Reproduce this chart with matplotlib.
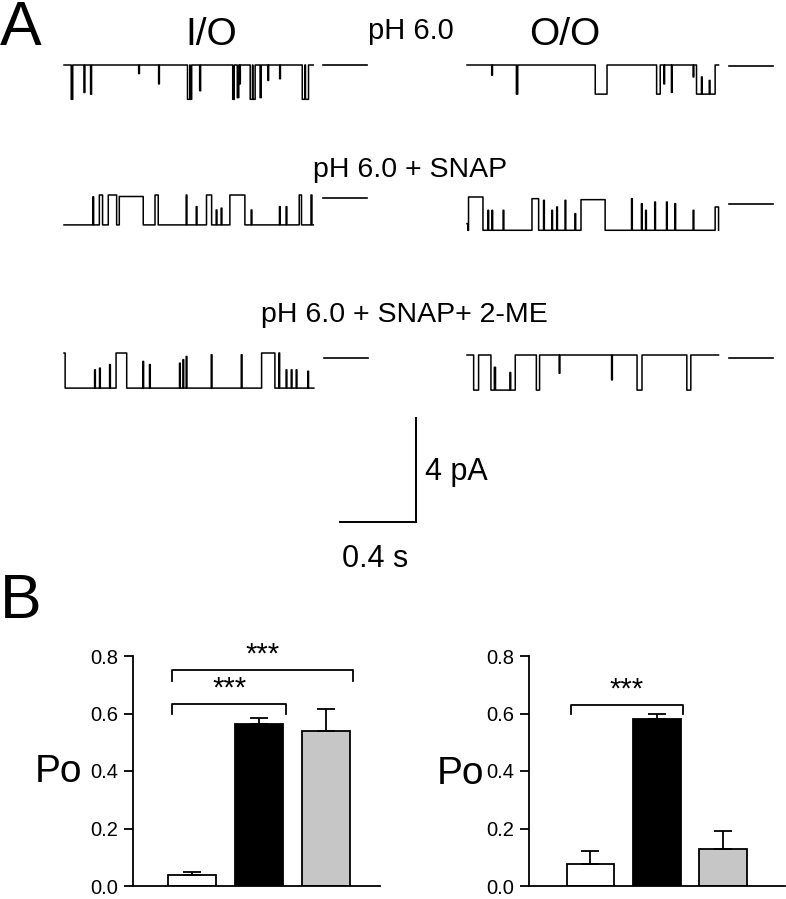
import numpy as np
import matplotlib
matplotlib.use("Agg")
import matplotlib.pyplot as plt

plt.rcParams['font.family'] = ['Liberation Sans', 'DejaVu Sans']

W, H = 786, 899

# ---- Panel A: single-channel records
# each event: (start ms, end ms, open fraction); 0 = closed level, 1 = fully open
io_ph6 = [(38, 46, 1.0), (105, 110, 0.8), (140, 145, 0.85), (393, 397, 0.25),
          (498, 502, 0.55), (650, 662, 1.0), (664, 672, 1.0), (714, 719, 0.75),
          (888, 896, 1.0), (912, 920, 0.95), (924, 928, 0.55), (980, 992, 1.0),
          (994, 1006, 1.0), (1032, 1038, 0.95), (1073, 1077, 0.45),
          (1135, 1139, 0.4), (1254, 1268, 1.0), (1271, 1287, 1.0)]
oo_ph6 = [(130, 134, 0.35), (260, 267, 1.0), (675, 737, 1.0), (998, 1017, 1.0),
          (1036, 1040, 0.65), (1076, 1080, 0.94), (1190, 1194, 0.41),
          (1208, 1306, 1.0), (1234, 1238, 0.41), (1275, 1279, 0.53)]
io_snap = [(152, 156, 0.06), (186, 203, 0.0), (233, 277, 0.0), (291, 417, 0.05),
           (479, 496, 0.0), (643, 647, 0.0), (696, 700, 0.39), (750, 777, 0.0),
           (801, 805, 0.5), (827, 831, 0.44), (873, 952, 0.0), (985, 989, 0.5),
           (1134, 1138, 0.39), (1169, 1173, 0.39), (1238, 1250, 0.0),
           (1300, 1305, 0.0)]
oo_snap = [(0, 4, 0.8), (8, 84, 0.0), (110, 114, 0.4), (131, 135, 0.4),
           (190, 194, 0.4), (342, 377, 0.05), (403, 407, 0.1), (446, 450, 0.4),
           (472, 476, 0.3), (516, 520, 0.1), (568, 572, 0.5), (600, 727, 0.08),
           (866, 870, 0.05), (918, 922, 0.2), (940, 944, 0.4), (988, 992, 0.15),
           (1050, 1054, 0.15), (1094, 1098, 0.2), (1190, 1194, 0.4),
           (1306, 1324, 0.3)]
io_snap_me = [(0, 6, 0.0), (161, 165, 0.48), (187, 191, 0.43), (240, 244, 0.33),
              (274, 330, 0.0), (415, 419, 0.24), (450, 454, 0.33),
              (608, 612, 0.29), (626, 630, 0.19), (643, 647, 0.1),
              (775, 779, 0.05), (933, 937, 0.05), (1040, 1110, 0.0),
              (1131, 1135, 0.0), (1169, 1173, 0.48), (1196, 1200, 0.48),
              (1222, 1226, 0.48), (1283, 1287, 0.52)]
oo_snap_me = [(35, 61, 1.0), (126, 254, 1.0), (144, 150, 0.35), (226, 230, 0.5),
              (365, 382, 1.0), (485, 489, 0.52), (761, 765, 0.71),
              (895, 921, 1.0), (1157, 1178, 1.0)]

record_ms = [1312, 1324, 1312, 1324, 1315, 1324]
start_state = [0, 0, 1, 1, 1, 0]
unit_pA = [1.32, 1.12, 1.15, 1.28, 1.35, 1.35]

# ---- Panel B: open probability
conditions = ['pH 6.0', 'pH 6.0 + SNAP', 'pH 6.0 + SNAP + 2-ME']
po_io = [0.037, 0.563, 0.538]
sem_io = [0.012, 0.022, 0.076]
po_oo = [0.075, 0.580, 0.130]
sem_oo = [0.046, 0.018, 0.060]
bar_colors = ['white', 'black', '#c6c6c6']
sig_io = [(0, 1, '***'), (0, 2, '***')]
sig_oo = [(0, 1, '***')]

PX_PER_S = 76 / 0.4
PX_PER_PA = 104 / 4.0

fig = plt.figure(figsize=(W / 100, H / 100), dpi=100)

axA = fig.add_axes([0, 0, 1, 1])
axA.set_xlim(0, W / PX_PER_S)
axA.set_ylim(-H / PX_PER_PA, 0)
axA.axis('off')


def sx(px):
    return px / PX_PER_S


def sy(px):
    return -px / PX_PER_PA


def build(events, length, base):
    t = np.arange(length + 1)
    lvl = np.full(t.size, float(base))
    for t0, t1, v in events:
        lvl[t0:t1] = v
    return t / 1000.0, lvl


records = [io_ph6, oo_ph6, io_snap, oo_snap, io_snap_me, oo_snap_me]
# trace origin (px) and closed-level reference line (px)
origin = [(64, 65), (467, 65), (64, 195), (467, 197), (64, 353), (467, 355)]
line_y = [65, 66, 198, 204, 358, 358]

for i, ev in enumerate(records):
    t, lvl = build(ev, record_ms[i], start_state[i])
    x0, y0 = origin[i]
    axA.plot(sx(x0) + t, sy(y0) - unit_pA[i] * lvl, color='black', lw=1.1,
             drawstyle='steps-post')
    xe = sx(x0) + t[-1]
    axA.plot([xe + sx(10), xe + sx(54)], [sy(line_y[i])] * 2, color='black', lw=1.2)

# scale bars: 4 pA, 0.4 s
bx, by = sx(416), sy(522)
axA.plot([bx - 0.4, bx, bx], [by, by, by + 4.0], color='black', lw=1.4,
         solid_joinstyle='miter')

txt = dict(transform=axA.transData, color='black')
axA.text(sx(0), sy(45), 'A', fontsize=45, ha='left', va='baseline', **txt)
axA.text(sx(0), sy(618), 'B', fontsize=45, ha='left', va='baseline', **txt)
axA.text(sx(211), sy(45), 'I/O', fontsize=28, ha='center', va='baseline', **txt)
axA.text(sx(565), sy(45), 'O/O', fontsize=28, ha='center', va='baseline', **txt)
axA.text(sx(411), sy(39), 'pH 6.0', fontsize=21, ha='center', va='baseline', **txt)
axA.text(sx(410), sy(177), 'pH 6.0 + SNAP', fontsize=20.5, ha='center',
         va='baseline', **txt)
axA.text(sx(404), sy(322), 'pH 6.0 + SNAP+ 2-ME', fontsize=20.5, ha='center',
         va='baseline', **txt)
axA.text(sx(425), sy(480), '4 pA', fontsize=22, ha='left', va='baseline', **txt)
axA.text(sx(375), sy(567), '0.4 s', fontsize=22, ha='center', va='baseline', **txt)
axA.text(sx(82), sy(782), 'Po', fontsize=28, ha='right', va='baseline', **txt)
axA.text(sx(484), sy(784), 'Po', fontsize=28, ha='right', va='baseline', **txt)


def bar_panel(rect, po, sem, sig, xlim, brackets):
    ax = fig.add_axes(rect)
    x = np.arange(len(po))
    ax.bar(x, po, width=0.72, color=bar_colors, edgecolor='black', linewidth=1.3,
           zorder=2)
    ax.errorbar(x, po, yerr=[np.zeros(len(po)), sem], fmt='none', ecolor='black',
                elinewidth=1.3, capsize=6.5, capthick=1.3, zorder=3)
    for (a, b, label), (ytop, yend) in zip(sig, brackets):
        xa, xb = a - 0.3, b + 0.4
        ax.plot([xa, xa, xb, xb], [yend, ytop, ytop, yend], color='black', lw=1.3,
                clip_on=False)
        ax.text((xa + xb) / 2, ytop + 0.004, label, ha='center', va='bottom',
                fontsize=21)
    ax.set_xlim(*xlim)
    ax.set_ylim(0, 0.8)
    ax.set_yticks([0.0, 0.2, 0.4, 0.6, 0.8])
    ax.set_yticklabels(['0.0', '0.2', '0.4', '0.6', '0.8'])
    ax.set_xticks([])
    for s in ('top', 'right'):
        ax.spines[s].set_visible(False)
    for s in ('left', 'bottom'):
        ax.spines[s].set_linewidth(1.3)
    ax.tick_params(axis='y', length=6.5, width=1.3, labelsize=14.5, pad=4)
    ax.patch.set_alpha(0)
    return ax


bar_panel([133 / W, (H - 886) / H, (380 - 133) / W, (886 - 656) / H],
          po_io, sem_io, sig_io, (-0.89, 2.81), [(0.634, 0.597), (0.752, 0.714)])
bar_panel([529 / W, (H - 886) / H, (785 - 529) / W, (886 - 656) / H],
          po_oo, sem_oo, sig_oo, (-0.925, 2.93), [(0.63, 0.60)])

fig.savefig('out.png', dpi=100)
